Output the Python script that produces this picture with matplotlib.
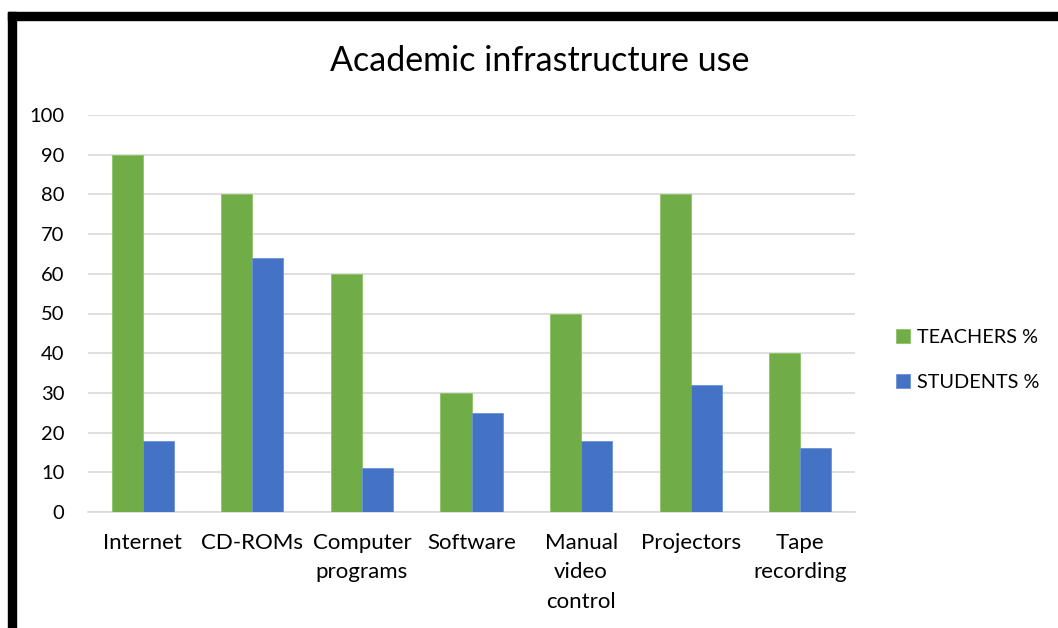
import matplotlib
matplotlib.use("Agg")
import matplotlib.pyplot as plt
from matplotlib.patches import Rectangle
import numpy as np

plt.rcParams['font.family'] = ['Lato', 'DejaVu Sans']

categories = ["Internet", "CD-ROMs", "Computer\nprograms", "Software",
              "Manual\nvideo\ncontrol", "Projectors", "Tape\nrecording"]
teachers = [90, 80, 60, 30, 50, 80, 40]
students = [18, 64, 11, 25, 18, 32, 16]
series_names = ["TEACHERS %", "STUDENTS %"]
yticks = [0, 10, 20, 30, 40, 50, 60, 70, 80, 90, 100]

W, H = 1058, 628
fig = plt.figure(figsize=(W / 100, H / 100), dpi=100)
fig.patch.set_facecolor("white")

# thick black frame on the top and left edges
fig.patches.append(Rectangle((8 / W, 1 - 20 / H), 1 - 8 / W, 8 / H,
                             transform=fig.transFigure, color="black", zorder=10))
fig.patches.append(Rectangle((8 / W, 0), 8 / W, 1 - 12 / H,
                             transform=fig.transFigure, color="black", zorder=10))

ax = fig.add_axes([88 / W, 1 - 512 / H, 767 / W, 397 / H])
x = np.arange(len(categories))
bw = 0.283
green, blue = "#70ad47", "#4472c4"
b1 = ax.bar(x - bw / 2, teachers, bw, color=green, edgecolor="#8cc46a",
            linewidth=0.6, zorder=3, label=series_names[0])
b2 = ax.bar(x + bw / 2, students, bw, color=blue, edgecolor="#6a92d6",
            linewidth=0.6, zorder=3, label=series_names[1])

ax.set_xlim(-0.5, len(categories) - 0.5)
ax.set_ylim(0, 100)
ax.set_yticks(yticks)
ax.set_yticklabels([str(v) for v in yticks], fontsize=14.5, color="#000000")
ax.set_xticks(x)
ax.set_xticklabels(categories, fontsize=16, color="#000000", linespacing=1.6,
                   va="top")
ax.tick_params(axis="y", length=0, pad=17)
ax.tick_params(axis="x", length=0, pad=15)
ax.yaxis.grid(True, color="#d9d9d9", linewidth=1.2, zorder=0)
ax.set_axisbelow(True)
for s in ["top", "right", "left"]:
    ax.spines[s].set_visible(False)
ax.spines["bottom"].set_color("#d9d9d9")
ax.spines["bottom"].set_linewidth(1.2)

fig.text(540 / W, 1 - 61 / H, "Academic infrastructure use", fontsize=24.5,
         ha="center", va="center", color="#000000")

fig.legend(handles=[b1, b2], labels=series_names, loc="center left",
           bbox_to_anchor=(878 / W, 1 - 360 / H), frameon=False, fontsize=14.3,
           handlelength=0.7, handleheight=0.7, handletextpad=0.35,
           labelspacing=1.4)

fig.savefig("out.png", dpi=100, facecolor="white")
